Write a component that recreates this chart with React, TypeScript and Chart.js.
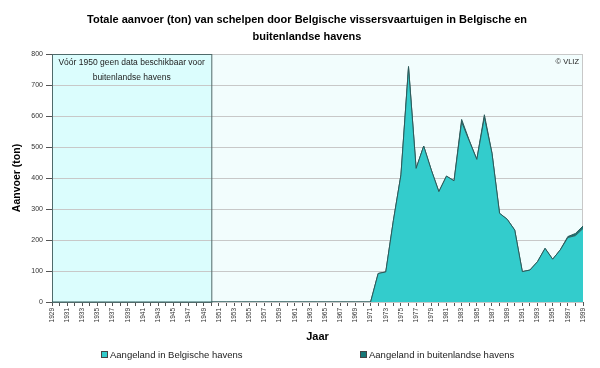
import { useEffect, useRef } from "react";
import { Chart, registerables } from "chart.js";

Chart.register(...registerables);

const FONT = "'Liberation Sans', Arial, sans-serif";

const years = [
  "1929","1930","1931","1932","1933","1934","1935","1936","1937","1938",
  "1939","1940","1941","1942","1943","1944","1945","1946","1947","1948",
  "1949","1950","1951","1952","1953","1954","1955","1956","1957","1958",
  "1959","1960","1961","1962","1963","1964","1965","1966","1967","1968",
  "1969","1970","1971","1972","1973","1974","1975","1976","1977","1978",
  "1979","1980","1981","1982","1983","1984","1985","1986","1987","1988",
  "1989","1990","1991","1992","1993","1994","1995","1996","1997","1998",
  "1999",
];

// Aangeland in Belgische havens (ton)
const belgian = [
  0, 0, 0, 0, 0, 0, 0, 0, 0, 0,
  0, 0, 0, 0, 0, 0, 0, 0, 0, 0,
  0, 0, 0, 0, 0, 0, 0, 0, 0, 0,
  0, 0, 0, 0, 0, 0, 0, 0, 0, 0,
  0, 0, 0, 92, 97, 262, 410, 756, 431, 503,
  426, 356, 406, 391, 581, 520, 460, 596, 480, 286,
  267, 232, 98, 103, 130, 173, 138, 168, 208, 214,
  237,
];

// Aangeland in buitenlandse havens (ton) - no data before 1950
const foreign = [
  null, null, null, null, null, null, null, null, null, null,
  null, null, null, null, null, null, null, null, null, null,
  null, 0, 0, 0, 0, 0, 0, 0, 0, 0,
  0, 0, 0, 0, 0, 0, 0, 0, 0, 0,
  0, 0, 0, 0, 0, 0, 0, 4, 0, 0,
  0, 0, 0, 0, 8, 2, 0, 8, 0, 0,
  0, 0, 0, 0, 0, 0, 0, 0, 3, 7,
  8,
];

const seriesNames = ["Aangeland in Belgische havens", "Aangeland in buitenlandse havens"];
const seriesColors = ["#33cccc", "#157777"];
const titleLines = [
  "Totale aanvoer (ton) van schelpen door Belgische vissersvaartuigen in Belgische en",
  "buitenlandse havens",
];
const noteLines = ["Vóór 1950 geen data beschikbaar voor", "buitenlandse havens"];
const noDataUntil = "1950";

export default function App() {
  const ref = useRef<HTMLCanvasElement>(null);

  useEffect(() => {
    if (!ref.current) return;

    const bgPlugin = {
      id: "bgPlugin",
      beforeDraw(chart: any) {
        const { ctx, chartArea, scales } = chart;
        const { left, top, right, bottom } = chartArea;
        ctx.save();
        ctx.fillStyle = "#f2fdfd";
        ctx.fillRect(left, top, right - left, bottom - top);
        const bx = scales.x.getPixelForValue(years.indexOf(noDataUntil));
        ctx.fillStyle = "#dbfdfd";
        ctx.fillRect(left, top, bx - left, bottom - top);
        ctx.restore();
      },
      beforeDatasetsDraw(chart: any) {
        const { ctx, chartArea, scales } = chart;
        const { left, top, right, bottom } = chartArea;
        ctx.save();
        ctx.strokeStyle = "#c8c8c8";
        ctx.lineWidth = 1;
        ctx.strokeRect(left + 0.5, top + 0.5, right - left - 1, bottom - top);
        const bx = scales.x.getPixelForValue(years.indexOf(noDataUntil));
        ctx.strokeStyle = "#4f6a6a";
        ctx.strokeRect(left + 0.5, top + 0.5, bx - left, bottom - top);
        ctx.restore();
      },
      afterDraw(chart: any) {
        const { ctx, chartArea, scales } = chart;
        const { left, top, right } = chartArea;
        const bx = scales.x.getPixelForValue(years.indexOf(noDataUntil));
        ctx.save();
        // title
        ctx.fillStyle = "#000";
        ctx.font = `bold 11px ${FONT}`;
        ctx.textAlign = "center";
        ctx.textBaseline = "middle";
        titleLines.forEach((l, i) => ctx.fillText(l, 307, 20 + i * 17));

        ctx.fillStyle = "#222";
        ctx.font = `8.5px ${FONT}`;
        noteLines.forEach((l, i) => ctx.fillText(l, (left + bx) / 2, top + 9 + i * 15));
        ctx.textAlign = "right";
        ctx.font = `7.5px ${FONT}`;
        ctx.fillText("© VLIZ", right - 4, top + 8);

        // legend
        ctx.font = `9.5px ${FONT}`;
        ctx.textAlign = "left";
        const lx = [101, 360];
        const ly = 355;
        seriesNames.forEach((n, i) => {
          ctx.fillStyle = seriesColors[i];
          ctx.fillRect(lx[i] + 0.5, ly - 3.5, 6, 6);
          ctx.strokeStyle = "#444";
          ctx.lineWidth = 1;
          ctx.strokeRect(lx[i] + 0.5, ly - 3.5, 6, 6);
          ctx.fillStyle = "#222";
          ctx.fillText(n, lx[i] + 9, ly);
        });
        ctx.restore();
      },
    };

    const chart = new Chart(ref.current, {
      type: "line",
      data: {
        labels: years,
        datasets: [
          {
            label: seriesNames[0],
            data: belgian,
            fill: "origin",
            backgroundColor: seriesColors[0],
            borderColor: "#2d5a5a",
            borderWidth: 1,
            pointRadius: 0,
            tension: 0,
          },
          {
            label: seriesNames[1],
            data: foreign as any,
            fill: "-1",
            backgroundColor: seriesColors[1],
            borderColor: "#2d5a5a",
            borderWidth: 1,
            pointRadius: 0,
            tension: 0,
          },
        ],
      },
      options: {
        animation: false,
        responsive: false,
        layout: { padding: { top: 54, right: 17, bottom: 22, left: 0 } },
        plugins: {
          legend: { display: false },
          tooltip: { enabled: false },
          title: { display: false },
        },
        scales: {
          x: {
            type: "category",
            offset: false,
            grid: { drawOnChartArea: false, tickLength: 4, color: "#555" },
            border: { color: "#555" },
            ticks: {
              autoSkip: false,
              minRotation: 90,
              maxRotation: 90,
              color: "#333",
              padding: 2,
              font: { family: FONT, size: 6.5 },
              callback: (_v: any, i: number) => (i % 2 === 0 ? years[i] : ""),
            },
            title: {
              display: true,
              text: "Jaar",
              color: "#000",
              font: { family: FONT, size: 11, weight: "bold" },
              padding: { top: 0, bottom: 2 },
            },
            afterFit: (s: any) => {
              s.height = 44;
            },
          },
          y: {
            stacked: true,
            min: 0,
            max: 800,
            grid: { color: "#c8c8c8", tickLength: 6, tickColor: "#555" },
            border: { color: "#555" },
            ticks: {
              stepSize: 100,
              color: "#333",
              padding: 3,
              font: { family: FONT, size: 7 },
            },
            title: {
              display: true,
              text: "Aanvoer (ton)",
              color: "#000",
              font: { family: FONT, size: 10.5, weight: "bold" },
              padding: { top: 11, bottom: 0 },
            },
            afterFit: (s: any) => {
              s.width = 52;
            },
          },
        },
      } as any,
      plugins: [bgPlugin],
    });

    return () => chart.destroy();
  }, []);

  return (
    <div style={{ position: "fixed", left: 0, top: 0, width: 600, height: 368, background: "#fff" }}>
      <canvas ref={ref} width={600} height={368} style={{ width: 600, height: 368, display: "block" }} />
    </div>
  );
}
